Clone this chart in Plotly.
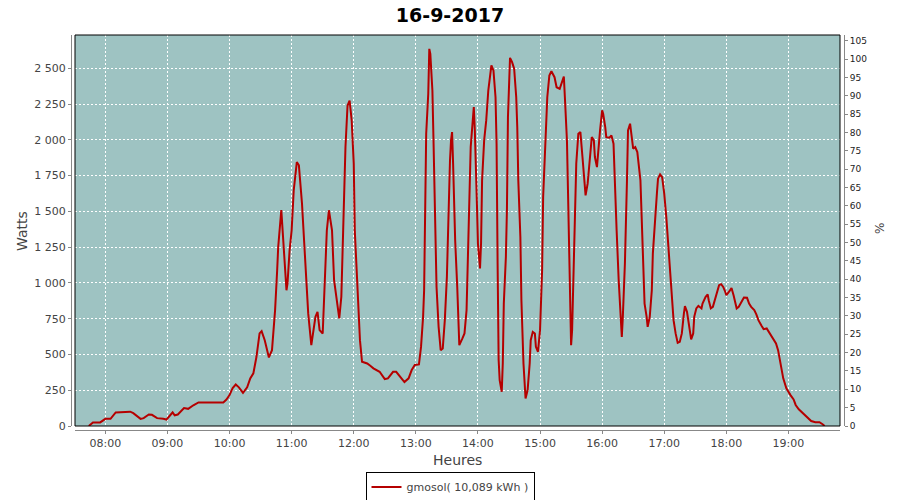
import plotly.graph_objects as go

day = "2017-09-16"
title_text = "16-9-2017"
series_name = "gmosol( 10,089 kWh )"

times = [
    "07:44", "07:48", "07:52", "07:55", "08:00", "08:05", "08:10", "08:16", "08:24", "08:27",
    "08:34", "08:37", "08:42", "08:45", "08:50", "08:56", "08:59", "09:02", "09:05", "09:07",
    "09:10", "09:16", "09:20", "09:25", "09:30", "09:44", "09:54", "09:57", "10:00", "10:03",
    "10:06", "10:09", "10:13", "10:17", "10:20", "10:23", "10:26", "10:29", "10:31", "10:34",
    "10:38", "10:41", "10:44", "10:46", "10:47", "10:50", "10:52", "10:55", "10:56", "10:58",
    "11:00", "11:02", "11:05", "11:07", "11:10", "11:13", "11:16", "11:19", "11:21", "11:23",
    "11:25", "11:27", "11:30", "11:32", "11:34", "11:36", "11:39", "11:41", "11:44", "11:46",
    "11:48", "11:50", "11:52", "11:54", "11:56", "11:58", "12:00", "12:01", "12:04", "12:06",
    "12:08", "12:13", "12:16", "12:19", "12:25", "12:30", "12:33", "12:38", "12:41", "12:45",
    "12:49", "12:53", "12:56", "12:59", "13:03", "13:05", "13:07", "13:08", "13:09", "13:10",
    "13:12", "13:13", "13:14", "13:16", "13:17", "13:19", "13:20", "13:22", "13:24", "13:26",
    "13:28", "13:30", "13:31", "13:33", "13:34", "13:35", "13:36", "13:38", "13:40", "13:41",
    "13:42", "13:45", "13:47", "13:49", "13:51", "13:53", "13:56", "13:57", "13:59", "14:00",
    "14:02", "14:03", "14:04", "14:06", "14:08", "14:10", "14:13", "14:15", "14:17", "14:18",
    "14:19", "14:20", "14:21", "14:23", "14:24", "14:25", "14:27", "14:28", "14:29", "14:31",
    "14:33", "14:35", "14:37", "14:38", "14:39", "14:41", "14:42", "14:44", "14:46", "14:48",
    "14:50", "14:51", "14:53", "14:55", "14:56", "14:58", "15:00", "15:02", "15:03", "15:05",
    "15:07", "15:09", "15:11", "15:14", "15:16", "15:19", "15:21", "15:23", "15:24", "15:26",
    "15:27", "15:28", "15:29", "15:30", "15:31", "15:32", "15:33", "15:34", "15:35", "15:37",
    "15:39", "15:41", "15:43", "15:44", "15:46", "15:48", "15:50", "15:52", "15:53", "15:55",
    "15:56", "15:58", "16:00", "16:01", "16:03", "16:04", "16:07", "16:09", "16:11", "16:12",
    "16:14", "16:16", "16:18", "16:19", "16:20", "16:22", "16:24", "16:25", "16:27", "16:29",
    "16:30", "16:32", "16:34", "16:37", "16:39", "16:41", "16:43", "16:44", "16:46", "16:48",
    "16:49", "16:51", "16:53", "16:54", "16:56", "16:58", "17:00", "17:02", "17:04", "17:06",
    "17:08", "17:09", "17:11", "17:13", "17:15", "17:17", "17:19", "17:20", "17:22", "17:24",
    "17:26", "17:28", "17:29", "17:31", "17:33", "17:36", "17:37", "17:40", "17:42", "17:43",
    "17:45", "17:47", "17:49", "17:51", "17:53", "17:55", "17:57", "17:59", "18:00", "18:03",
    "18:05", "18:07", "18:10", "18:12", "18:15", "18:17", "18:20", "18:22", "18:24", "18:27",
    "18:29", "18:31", "18:34", "18:36", "18:39", "18:42", "18:45", "18:48", "18:50", "18:52",
    "18:53", "18:55", "18:58", "19:00", "19:02", "19:05", "19:07", "19:10", "19:13", "19:16",
    "19:19", "19:22", "19:26", "19:30", "19:33", "19:35",
]

watts = [
    0, 25, 25, 25, 50, 50, 95, 95, 100, 90,
    50, 55, 80, 78, 55, 50, 45, 70, 95, 75,
    80, 125, 120, 145, 165, 165, 165, 185, 216, 265,
    290, 270, 232, 270, 333, 368, 484, 647, 663, 600,
    479, 530, 810, 1089, 1250, 1510, 1275, 949, 996, 1228,
    1368, 1647, 1845, 1822, 1554, 1182, 787, 565, 670, 763,
    798, 670, 647, 1019, 1368, 1508, 1368, 1019, 833, 752,
    903, 1368, 1950, 2240, 2275, 2136, 1834, 1368, 926, 600,
    449, 437, 421, 403, 379, 328, 333, 379, 379, 344,
    307, 333, 391, 426, 430, 553, 763, 949, 1438, 2043,
    2322, 2636, 2601, 2345, 2019, 1368, 972, 693, 530, 542,
    740, 1042, 1368, 1857, 1996, 2054, 1834, 1298, 972, 740,
    565, 612, 647, 810, 1321, 1950, 2229, 2066, 1554, 1275,
    1101, 1275, 1717, 1996, 2136, 2345, 2520, 2485, 2298, 1973,
    1136, 461, 321, 239, 437, 856, 1182, 1508, 2159, 2573,
    2543, 2497, 2298, 2089, 1717, 1321, 879, 437, 193, 251,
    437, 600, 658, 647, 553, 519, 670, 1089, 1601, 1950,
    2298, 2450, 2480, 2438, 2368, 2357, 2403, 2443, 2298, 1996,
    1647, 1275, 903, 565, 670, 926, 1252, 1577, 1834, 2043,
    2054, 1880, 1694, 1612, 1694, 1857, 2019, 1996, 1880, 1810,
    1903, 2066, 2206, 2182, 2089, 2019, 2015, 2031, 1973, 1740,
    1368, 1019, 763, 623, 763, 1136, 1717, 2066, 2113, 1996,
    1938, 1950, 1915, 1717, 1250, 856, 763, 693, 763, 949,
    1205, 1461, 1635, 1729, 1759, 1740, 1624, 1461, 1252, 1112,
    903, 740, 647, 581, 588, 647, 787, 838, 798, 693,
    605, 647, 763, 822, 840, 822, 856, 903, 919, 879,
    822, 833, 879, 937, 984, 991, 972, 937, 914, 942,
    965, 914, 822, 833, 879, 898, 896, 856, 833, 810,
    780, 740, 700, 677, 682, 647, 612, 577, 530, 461,
    403, 333, 263, 235, 216, 186, 147, 117, 98, 77,
    54, 35, 26, 26, 12, 0,
]

x_vals = [f"{day} {t}" for t in times]

FONT = "DejaVu Sans"
GRID = "white"
AXC = "#888888"

fig = go.Figure()
fig.add_trace(go.Scatter(
    x=x_vals, y=watts, mode="lines", name=series_name,
    line=dict(color="#B50000", width=2),
))
# invisible trace to bring the percentage axis to life
fig.add_trace(go.Scatter(
    x=[x_vals[0]], y=[0], yaxis="y2", mode="lines",
    line=dict(width=0), showlegend=False, hoverinfo="skip",
))

# pixel layout: paper x 67..848, y 31..430
fig.update_layout(
    width=900, height=500,
    margin=dict(l=67, r=52, t=31, b=70, autoexpand=False),
    paper_bgcolor="white",
    plot_bgcolor="#9EC3C2",
    separators=", ",
    font=dict(family=FONT, color="#444444"),
    title=dict(text=f"<b>{title_text}</b>", x=0.5, xref="container", xanchor="center",
               y=1 - 15 / 500, yref="container", yanchor="middle",
               font=dict(size=19, color="black", family=FONT)),
    showlegend=True,
    legend=dict(orientation="h", x=0.5, xref="container", xanchor="center",
                y=1 - 487 / 500, yref="container", yanchor="middle",
                bordercolor="black", borderwidth=1,
                font=dict(size=11, color="#444444", family=FONT),
                itemwidth=30, tracegroupgap=0),
    xaxis=dict(
        domain=[8 / 781, 773 / 781],
        anchor="free", position=0, automargin=False,
        type="date",
        range=[f"{day} 07:30:40", f"{day} 19:49:50"],
        tick0=f"{day} 08:00", dtick=3600000, tickformat="%H:%M",
        showgrid=True, gridcolor=GRID, gridwidth=1, griddash="2px,2px",
        showline=True, linecolor=AXC, linewidth=1,
        ticks="outside", ticklen=3, tickcolor=AXC,
        tickfont=dict(size=11, color="#444444"),
        zeroline=False,
    ),
    yaxis=dict(
        domain=[4 / 399, 395 / 399],
        anchor="free", position=4 / 781, automargin=False,
        range=[0, 2733], dtick=250, tick0=0, tickformat=",d",
        showgrid=True, gridcolor=GRID, gridwidth=1, griddash="2px,2px",
        showline=True, linecolor=AXC, linewidth=1,
        ticks="outside", ticklen=3, tickcolor=AXC,
        tickfont=dict(size=11, color="#444444"),
        zeroline=False,
    ),
    yaxis2=dict(
        overlaying="y", side="right",
        anchor="free", position=777 / 781, automargin=False,
        range=[0, 106.6], dtick=5, tick0=0,
        showgrid=False,
        showline=True, linecolor=AXC, linewidth=1,
        ticks="outside", ticklen=3, tickcolor=AXC,
        tickfont=dict(size=9, color="#222222"),
        zeroline=False,
    ),
)

fig.add_shape(type="rect", xref="x domain", yref="y domain",
              x0=0, x1=1, y0=0, y1=1,
              line=dict(color="black", width=1), layer="above")

fig.add_annotation(text="Watts", xref="paper", yref="paper",
                   x=(22 - 67) / 781, y=(430 - 231) / 399,
                   xanchor="center", yanchor="middle",
                   textangle=-90, showarrow=False,
                   font=dict(size=14, color="#444444", family=FONT))
fig.add_annotation(text="%", xref="paper", yref="paper",
                   x=(880 - 67) / 781, y=(430 - 229) / 399,
                   xanchor="center", yanchor="middle",
                   textangle=-90, showarrow=False,
                   font=dict(size=12, color="#444444", family=FONT))
fig.add_annotation(text="Heures", xref="paper", yref="paper",
                   x=(457 - 67) / 781, y=(430 - 460) / 399,
                   xanchor="center", yanchor="middle",
                   showarrow=False,
                   font=dict(size=14, color="#444444", family=FONT))

fig.write_html("out.html",
               config={"displayModeBar": False},
               post_script="document.body.style.margin='0';document.body.style.overflow='hidden';")
